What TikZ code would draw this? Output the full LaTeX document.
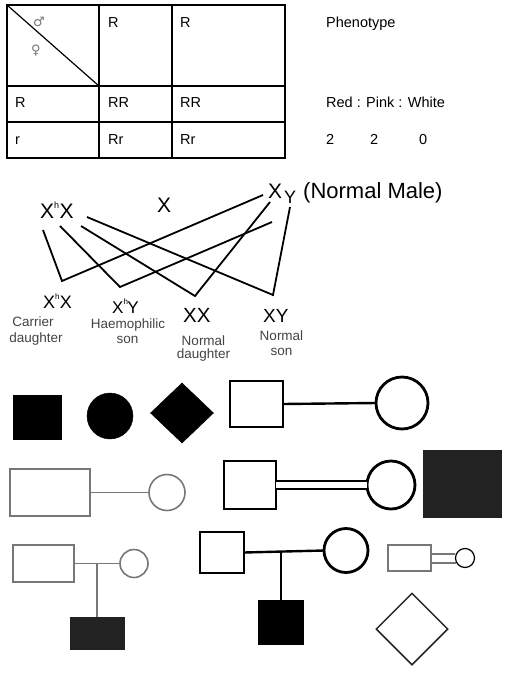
\documentclass[tikz,border=0pt]{standalone}
\usepackage{fontspec}
\setmainfont{Liberation Sans}
\newfontfamily\symfont{DejaVu Sans}
\usetikzlibrary{shapes.geometric}
\definecolor{lgray}{HTML}{777777}
\definecolor{dfill}{HTML}{222222}
\definecolor{lbl}{HTML}{444444}
\begin{document}
\begin{tikzpicture}[x=1pt,y=-1pt,
  tt/.style={anchor=base west, inner sep=0pt, font=\fontsize{14.5}{16}\selectfont},
  big/.style={anchor=base west, inner sep=0pt, font=\fontsize{21}{21}\selectfont},
  sm/.style={anchor=base, inner sep=0pt, text=lbl, font=\fontsize{13.5}{14}\selectfont},
  cross/.style={line width=1.8pt, line join=miter},
  thick box/.style={draw, line width=2.8pt, inner sep=0pt, outer sep=0pt},
  thin box/.style={draw=lgray, line width=1.6pt, inner sep=0pt, outer sep=0pt},
  solid box/.style={fill=black, draw=black, inner sep=0pt, outer sep=0pt},
  link/.style={line width=2.4pt},
  thin link/.style={draw=lgray, line width=1.6pt}
]
\useasboundingbox (0,0) rectangle (510,675);
\fill[white] (0,0) rectangle (510,675);

% ---------------- table ----------------
\draw[line width=2.2pt] (7,5) rectangle (285,158);
\draw[line width=2pt] (99,5) -- (99,158) (172,5) -- (172,158)
  (7,86) -- (285,86) (7,122) -- (285,122);
\draw[line width=1.2pt] (7,5) -- (99,86);
\node[text=lgray, font=\symfont\fontsize{13}{13}\selectfont] (male) at (39,22) {♂};
\node[text=lgray, font=\symfont\fontsize{13}{13}\selectfont] (female) at (36,51) {♀};
\node[tt] (h1) at (108,27) {R};
\node[tt] (h2) at (180,27) {R};
\node[tt] (r1) at (15,107) {R};
\node[tt] (r1a) at (108,107) {RR};
\node[tt] (r1b) at (180,107) {RR};
\node[tt] (r2) at (15,144) {r};
\node[tt] (r2a) at (108,144) {Rr};
\node[tt] (r2b) at (180,144) {Rr};
\node[tt] (ph) at (326,27) {Phenotype};
\node[tt] (rpw) at (326,107) {Red : Pink : White};
\node[tt] (n1) at (326,144) {2};
\node[tt] (n2) at (370,144) {2};
\node[tt] (n3) at (419,144) {0};

% ---------------- cross ----------------
\node[big] (mother) at (40,218) {X\raisebox{10pt}{\fontsize{9}{9}\selectfont h}\kern0.5pt X};
\node[big] (midx) at (157,212) {X};
\node[big] (fx) at (268,198) {X};
\node[big, font=\fontsize{18}{18}\selectfont] (fy) at (284,203) {Y};
\node[big, font=\fontsize{22}{22}\selectfont] (nm) at (303,198) {(Normal Male)};

\coordinate (a1) at (43,230); \coordinate (v1) at (62,281); \coordinate (b1) at (263,195);
\coordinate (a2) at (60,226); \coordinate (v2) at (120,287); \coordinate (b2) at (272,222);
\coordinate (a3) at (81,226); \coordinate (v3) at (195,296); \coordinate (b3) at (270,202);
\coordinate (a4) at (87,217); \coordinate (v4) at (273,295); \coordinate (b4) at (290,207);
\draw[cross] (a1) -- (v1) -- (b1);
\draw[cross] (a2) -- (v2) -- (b2);
\draw[cross] (a3) -- (v3) -- (b3);
\draw[cross] (a4) -- (v4) -- (b4);

\node[big, font=\fontsize{18}{18}\selectfont] (k1) at (43,308) {X\raisebox{9pt}{\fontsize{8}{8}\selectfont h}\kern0.3pt X};
\node[big, font=\fontsize{17}{17}\selectfont] (k2) at (112,313) {X\raisebox{8.5pt}{\fontsize{8}{8}\selectfont h}\kern-0.5pt Y};
\node[big, font=\fontsize{20.5}{20}\selectfont] (k3) at (183,322) {XX};
\node[big, font=\fontsize{19}{19}\selectfont] (k4) at (263,322) {XY};
\node[sm] (l1a) at (33,326) {Carrier};
\node[sm] (l1b) at (36,342) {daughter};
\node[sm] (l2a) at (128,328) {Haemophilic};
\node[sm] (l2b) at (127.5,343) {son};
\node[sm] (l3a) at (203.5,345) {Normal};
\node[sm] (l3b) at (203.5,358) {daughter};
\node[sm] (l4a) at (281.5,340) {Normal};
\node[sm] (l4b) at (281.5,355) {son};

% ---------------- pedigree symbols ----------------
% row 1
\node[solid box, minimum width=48pt, minimum height=44pt] (fsq) at (37,417) {};
\node[solid box, circle, minimum size=46pt] (fci) at (110,416) {};
\node[solid box, diamond, minimum width=63pt, minimum height=60pt] (fdi) at (182,413) {};
\node[thick box, minimum width=53pt, minimum height=46pt] (m1) at (256.5,404) {};
\node[thick box, circle, minimum size=52pt] (w1) at (402,403) {};
\draw[link] (m1.east) -- (w1.west);

% row 2
\node[thin box, minimum width=80pt, minimum height=47pt] (m2) at (50,492.5) {};
\node[thin box, circle, minimum size=36pt] (w2) at (167,492.5) {};
\draw[thin link] (m2.east) -- (w2.west);
\node[thick box, minimum width=52pt, minimum height=48pt] (m3) at (250,485) {};
\node[thick box, circle, minimum size=48pt] (w3) at (391,485) {};
\draw[line width=2.4pt, double, double distance=5.5pt] (m3.east) -- (w3.west);
\node[fill=dfill, inner sep=0pt, minimum width=79pt, minimum height=68pt] (dsq) at (462.5,484) {};

% row 3
\node[thin box, minimum width=61pt, minimum height=37pt] (m4) at (43.5,563.5) {};
\node[thin box, circle, minimum size=28pt] (w4) at (134,563.5) {};
\draw[thin link] (m4.east) -- (w4.west);
\node[fill=dfill, inner sep=0pt, minimum width=55pt, minimum height=33pt] (c4) at (97,633.5) {};
\draw[thin link] (c4.north) -- (c4.north |- m4.east);

\node[thick box, minimum width=44pt, minimum height=41pt] (m5) at (222,552.5) {};
\node[thick box, circle, minimum size=44pt] (w5) at (346,550.5) {};
\draw[link] (m5.east) -- (w5.west);
\node[solid box, minimum width=45pt, minimum height=44pt] (c5) at (281,622) {};
\draw[link] (c5.north) -- (c5.north |- w5.west);

\node[draw=lgray, line width=1.2pt, inner sep=0pt, minimum width=43pt, minimum height=26pt] (m6) at (409.5,558) {};
\node[draw=black, line width=1.2pt, inner sep=0pt, circle, minimum size=19pt] (w6) at (465,558) {};
\draw[draw=lgray, line width=1.2pt] (m6.east |- 0,554) -- (w6.west |- 0,554)
  (m6.east |- 0,563) -- ([xshift=1.5pt]w6.west |- 0,563);

\node[draw=black!85, line width=1.5pt, diamond, inner sep=0pt, minimum width=72pt, minimum height=72pt] (odi) at (412,629) {};
\end{tikzpicture}
\end{document}
